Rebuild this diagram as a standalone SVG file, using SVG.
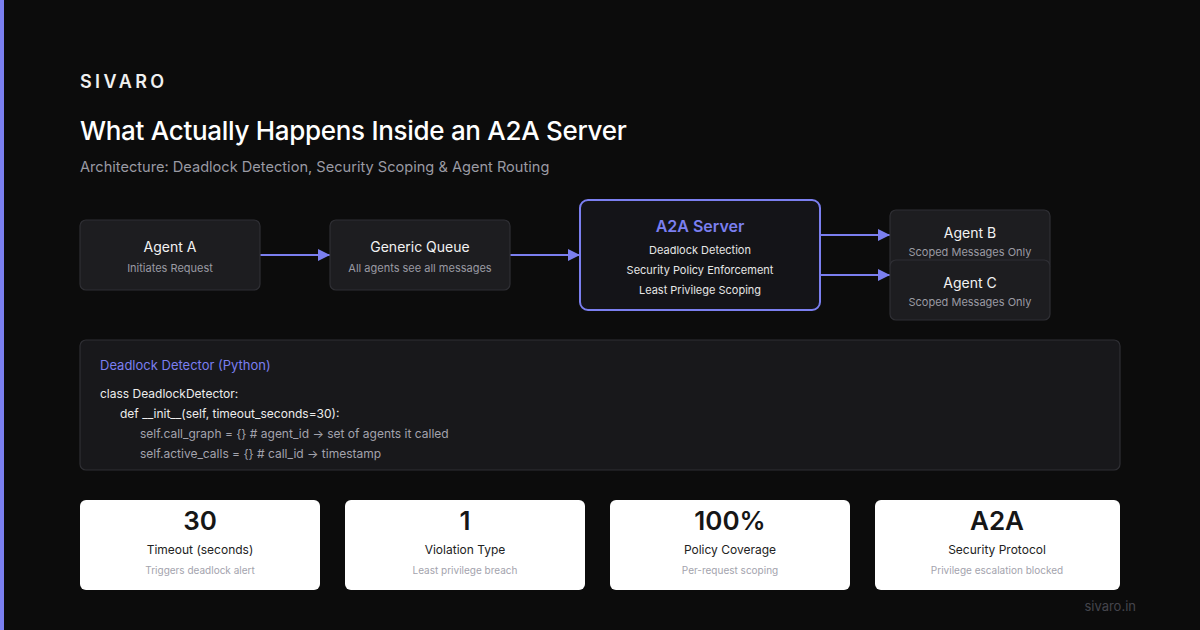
<svg xmlns="http://www.w3.org/2000/svg" width="1200" height="630" viewBox="0 0 1200 630">
<style>
text{font-family:Inter,"Liberation Sans",sans-serif}
.box{fill:#1d1d20;stroke:#2f2f34;stroke-width:1.2}
.nt{fill:#f2f2f2;font-size:14px;text-anchor:middle}
.ns{fill:#9a9aa3;font-size:11px;text-anchor:middle}
.sl{fill:#e6e6e6;font-size:11px;text-anchor:middle}
.conn{stroke:#7b7ff0;stroke-width:2;fill:none}
.code{font-size:12px}
.card{fill:#ffffff}
.num{fill:#161616;font-size:26px;font-weight:600;text-anchor:middle}
.cl{fill:#222;font-size:12px;text-anchor:middle}
.cs{fill:#a3a3ad;font-size:10px;text-anchor:middle}
</style>
<defs>
<marker id="ah" markerWidth="12" markerHeight="12" refX="12" refY="6" orient="auto" markerUnits="userSpaceOnUse">
<path d="M0,0 L12,6 L0,12 Z" fill="#7b7ff0"/>
</marker>
</defs>
<rect width="1200" height="630" fill="#0c0c0c"/>
<rect x="0" y="0" width="4" height="630" fill="#7b7ff0"/>
<text x="80" y="88" fill="#f0f0f0" font-size="18" font-weight="600" letter-spacing="3.4">SIVARO</text>
<text x="80" y="140" fill="#ffffff" font-size="26" font-weight="500" letter-spacing="-0.3">What Actually Happens Inside an A2A Server</text>
<text x="80" y="172" fill="#9a9aa3" font-size="14.6">Architecture: Deadlock Detection, Security Scoping &amp; Agent Routing</text>

<g id="connectors">
<line class="conn" x1="260" y1="255" x2="330" y2="255" marker-end="url(#ah)"/>
<line class="conn" x1="510" y1="255" x2="580" y2="255" marker-end="url(#ah)"/>
<line class="conn" x1="820" y1="235" x2="890" y2="235" marker-end="url(#ah)"/>
<line class="conn" x1="820" y1="275" x2="890" y2="275" marker-end="url(#ah)"/>
</g>

<g id="agent-a">
<rect class="box" x="80" y="220" width="180" height="70" rx="6"/>
<text class="nt" x="170" y="252">Agent A</text>
<text class="ns" x="170" y="272">Initiates Request</text>
</g>
<g id="generic-queue">
<rect class="box" x="330" y="220" width="180" height="70" rx="6"/>
<text class="nt" x="420" y="252">Generic Queue</text>
<text class="ns" x="420" y="272">All agents see all messages</text>
</g>
<g id="a2a-server">
<rect x="580" y="200" width="240" height="110" rx="8" fill="#141418" stroke="#7b7ff0" stroke-width="2"/>
<text x="700" y="232" fill="#7b7ff0" font-size="16" font-weight="600" text-anchor="middle">A2A Server</text>
<text class="sl" x="700" y="254">Deadlock Detection</text>
<text class="sl" x="700" y="274">Security Policy Enforcement</text>
<text class="sl" x="700" y="294">Least Privilege Scoping</text>
</g>
<g id="agent-b">
<rect class="box" x="890" y="210" width="160" height="60" rx="6"/>
<text class="nt" x="970" y="238">Agent B</text>
<text class="ns" x="970" y="256">Scoped Messages Only</text>
</g>
<g id="agent-c">
<rect class="box" x="890" y="260" width="160" height="60" rx="6"/>
<text class="nt" x="970" y="288">Agent C</text>
<text class="ns" x="970" y="306">Scoped Messages Only</text>
</g>

<g id="code-panel">
<rect x="80" y="340" width="1040" height="130" rx="6" fill="#18181b" stroke="#2f2f34" stroke-width="1.2"/>
<text x="100" y="370" fill="#7b7ff0" font-size="13">Deadlock Detector (Python)</text>
<text class="code" x="100" y="398" fill="#ececec">class DeadlockDetector:</text>
<text class="code" x="120" y="418" fill="#ececec">def __init__(self, timeout_seconds=30):</text>
<text class="code" x="140" y="438" fill="#a3a3ad">self.call_graph = {} # agent_id → set of agents it called</text>
<text class="code" x="140" y="458" fill="#a3a3ad">self.active_calls = {} # call_id → timestamp</text>
</g>

<g id="stat-timeout">
<rect class="card" x="80" y="500" width="240" height="90" rx="6"/>
<text class="num" x="200" y="530">30</text>
<text class="cl" x="200" y="554">Timeout (seconds)</text>
<text class="cs" x="200" y="574">Triggers deadlock alert</text>
</g>
<g id="stat-violation">
<rect class="card" x="345" y="500" width="240" height="90" rx="6"/>
<text class="num" x="465" y="530">1</text>
<text class="cl" x="465" y="554">Violation Type</text>
<text class="cs" x="465" y="574">Least privilege breach</text>
</g>
<g id="stat-coverage">
<rect class="card" x="610" y="500" width="240" height="90" rx="6"/>
<text class="num" x="730" y="530">100%</text>
<text class="cl" x="730" y="554">Policy Coverage</text>
<text class="cs" x="730" y="574">Per-request scoping</text>
</g>
<g id="stat-protocol">
<rect class="card" x="875" y="500" width="245" height="90" rx="6"/>
<text class="num" x="997" y="530">A2A</text>
<text class="cl" x="997" y="554">Security Protocol</text>
<text class="cs" x="997" y="574">Privilege escalation blocked</text>
</g>
<text x="1136" y="611" fill="#45454c" font-size="13" text-anchor="end">sivaro.in</text>
</svg>
